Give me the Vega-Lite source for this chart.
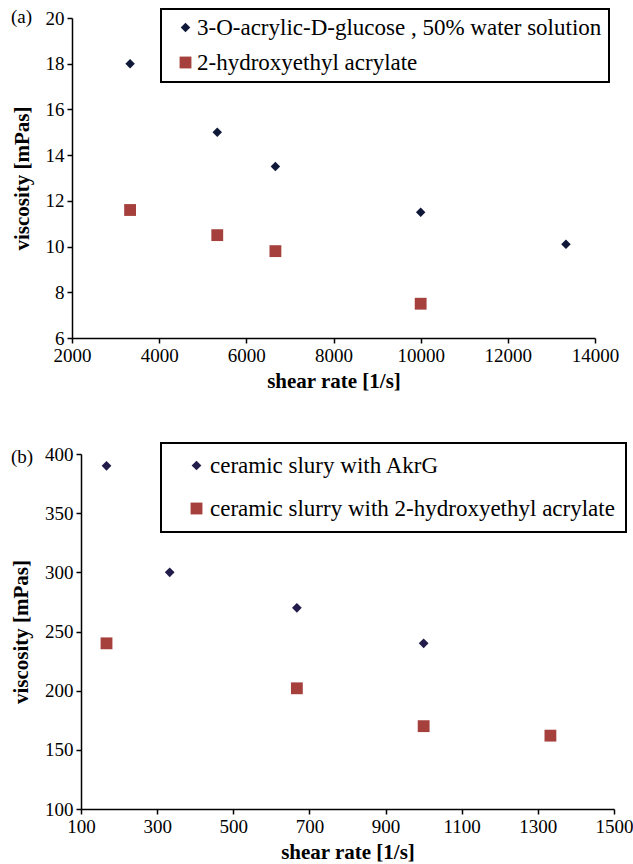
{
  "$schema": "https://vega.github.io/schema/vega-lite/v6.json",
  "background": "white",
  "padding": {"left": 10, "top": 8, "right": 0, "bottom": 0},
  "datasets": {
    "a": [
      {"series": "3-O-acrylic-D-glucose , 50% water solution", "shear": 3333, "viscosity": 18},
      {"series": "3-O-acrylic-D-glucose , 50% water solution", "shear": 5333, "viscosity": 15},
      {"series": "3-O-acrylic-D-glucose , 50% water solution", "shear": 6667, "viscosity": 13.5},
      {"series": "3-O-acrylic-D-glucose , 50% water solution", "shear": 10000, "viscosity": 11.5},
      {"series": "3-O-acrylic-D-glucose , 50% water solution", "shear": 13333, "viscosity": 10.1},
      {"series": "2-hydroxyethyl acrylate", "shear": 3333, "viscosity": 11.6},
      {"series": "2-hydroxyethyl acrylate", "shear": 5333, "viscosity": 10.5},
      {"series": "2-hydroxyethyl acrylate", "shear": 6667, "viscosity": 9.8},
      {"series": "2-hydroxyethyl acrylate", "shear": 10000, "viscosity": 7.5}
    ],
    "b": [
      {"series": "ceramic slury with AkrG", "shear": 167, "viscosity": 390},
      {"series": "ceramic slury with AkrG", "shear": 333, "viscosity": 300},
      {"series": "ceramic slury with AkrG", "shear": 667, "viscosity": 270},
      {"series": "ceramic slury with AkrG", "shear": 1000, "viscosity": 240},
      {"series": "ceramic slurry with 2-hydroxyethyl acrylate", "shear": 167, "viscosity": 240},
      {"series": "ceramic slurry with 2-hydroxyethyl acrylate", "shear": 667, "viscosity": 202},
      {"series": "ceramic slurry with 2-hydroxyethyl acrylate", "shear": 1000, "viscosity": 170},
      {"series": "ceramic slurry with 2-hydroxyethyl acrylate", "shear": 1333, "viscosity": 162}
    ]
  },
  "vconcat": [
    {
      "width": 523,
      "height": 320,
      "title": {"text": "(a)", "anchor": "start", "frame": "group", "orient": "top", "offset": 0, "baseline": "middle", "dx": -61, "dy": 28, "fontSize": 19, "fontWeight": "normal", "font": "Liberation Serif", "color": "black"},
      "data": {"name": "a"},
      "mark": {"type": "point", "filled": true, "opacity": 1},
      "encoding": {
        "x": {"field": "shear", "type": "quantitative", "title": "shear rate [1/s]",
              "scale": {"domain": [2000, 14000], "nice": false, "zero": false},
              "axis": {"values": [2000, 4000, 6000, 8000, 10000, 12000, 14000], "format": "d"}},
        "y": {"field": "viscosity", "type": "quantitative", "title": "viscosity [mPas]",
              "scale": {"domain": [6, 20], "nice": false, "zero": false},
              "axis": {"values": [6, 8, 10, 12, 14, 16, 18, 20]}},
        "color": {"field": "series", "type": "nominal",
                  "scale": {"domain": ["3-O-acrylic-D-glucose , 50% water solution", "2-hydroxyethyl acrylate"], "range": ["#0f1838", "#a5403c"]},
                  "legend": {"title": null, "orient": "none", "legendX": 89, "legendY": -9, "rowPadding": 11, "padding": 7, "symbolOffset": 6, "labelOffset": 0, "labelExpr": "datum.label + '\u00a0\u00a0\u00a0\u00a0\u00a0\u00a0\u00a0\u00a0\u2009'"}},
        "shape": {"field": "series", "type": "nominal",
                  "scale": {"domain": ["3-O-acrylic-D-glucose , 50% water solution", "2-hydroxyethyl acrylate"], "range": ["diamond", "square"]},
                  "legend": {"title": null, "orient": "none", "legendX": 89, "legendY": -9, "rowPadding": 11, "padding": 7, "symbolOffset": 6, "labelOffset": 0, "labelExpr": "datum.label + '\u00a0\u00a0\u00a0\u00a0\u00a0\u00a0\u00a0\u00a0\u2009'"}},
        "size": {"field": "series", "type": "nominal",
                 "scale": {"domain": ["3-O-acrylic-D-glucose , 50% water solution", "2-hydroxyethyl acrylate"], "range": [90, 140]},
                 "legend": null}
      }
    },
    {
      "width": 542,
      "height": 355,
      "title": {"text": "(b)", "anchor": "start", "frame": "group", "orient": "top", "offset": 0, "baseline": "middle", "dx": -61, "dy": 34, "fontSize": 19, "fontWeight": "normal", "font": "Liberation Serif", "color": "black"},
      "data": {"name": "b"},
      "mark": {"type": "point", "filled": true, "opacity": 1},
      "encoding": {
        "x": {"field": "shear", "type": "quantitative", "title": "shear rate [1/s]",
              "scale": {"domain": [100, 1500], "nice": false, "zero": false, "range": [9, 542]},
              "axis": {"values": [100, 300, 500, 700, 900, 1100, 1300, 1500], "format": "d"}},
        "y": {"field": "viscosity", "type": "quantitative", "title": "viscosity [mPas]",
              "scale": {"domain": [100, 400], "nice": false, "zero": false},
              "axis": {"values": [100, 150, 200, 250, 300, 350, 400], "offset": -9}},
        "color": {"field": "series", "type": "nominal",
                  "scale": {"domain": ["ceramic slury with AkrG", "ceramic slurry with 2-hydroxyethyl acrylate"], "range": ["#221c4a", "#a5403c"]},
                  "legend": {"title": null, "orient": "none", "legendX": 89, "legendY": -11, "rowPadding": 19, "padding": 11, "symbolOffset": 13, "labelOffset": 2, "labelExpr": "datum.label + '\u00a0\u00a0\u00a0\u00a0'"}},
        "shape": {"field": "series", "type": "nominal",
                  "scale": {"domain": ["ceramic slury with AkrG", "ceramic slurry with 2-hydroxyethyl acrylate"], "range": ["diamond", "square"]},
                  "legend": {"title": null, "orient": "none", "legendX": 89, "legendY": -11, "rowPadding": 19, "padding": 11, "symbolOffset": 13, "labelOffset": 2, "labelExpr": "datum.label + '\u00a0\u00a0\u00a0\u00a0'"}},
        "size": {"field": "series", "type": "nominal",
                 "scale": {"domain": ["ceramic slury with AkrG", "ceramic slurry with 2-hydroxyethyl acrylate"], "range": [95, 140]},
                 "legend": null}
      }
    }
  ],
  "spacing": 51,
  "resolve": {"scale": {"color": "independent", "shape": "independent", "size": "independent"}, "legend": {"color": "independent", "shape": "independent"}},
  "config": {
    "font": "Liberation Serif",
    "view": {"stroke": null},
    "axis": {
      "grid": false,
      "domainColor": "black",
      "domainWidth": 1.5,
      "tickColor": "black",
      "tickWidth": 1.5,
      "tickSize": 5,
      "labelFont": "Liberation Serif",
      "labelFontSize": 19,
      "labelColor": "black",
      "labelPadding": 3,
      "titleFont": "Liberation Serif",
      "titleFontSize": 21,
      "titleFontWeight": "bold",
      "titleColor": "black"
    },
    "axisX": {"titlePadding": 5, "labelFlush": false},
    "axisY": {"titlePadding": 13, "labelFlush": false},
    "legend": {
      "strokeColor": "black",
      "strokeWidth": 2,
      "fillColor": "white",
      "labelFont": "Liberation Serif",
      "labelFontSize": 23,
      "labelColor": "black",
      "labelLimit": 700,
      "symbolSize": 90,
      "symbolStrokeWidth": 0
    }
  }
}
